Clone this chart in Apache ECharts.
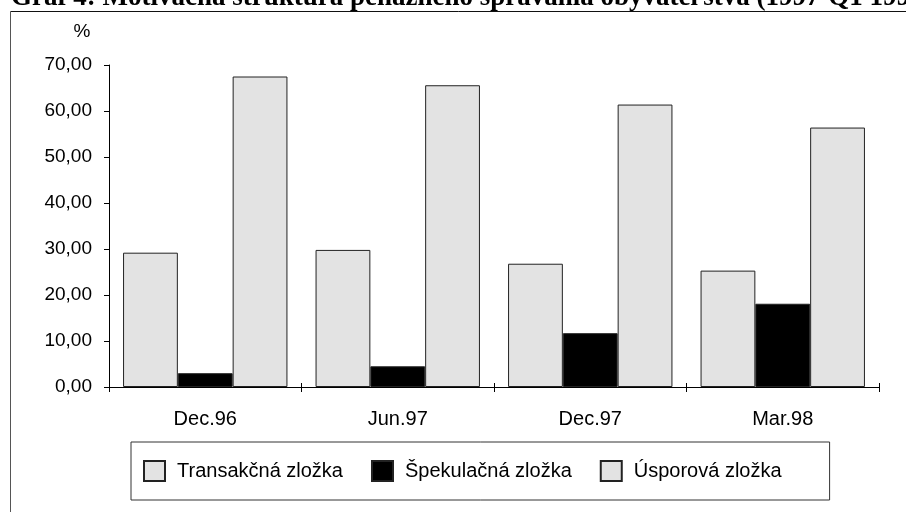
<!DOCTYPE html>
<html>
<head>
<meta charset="utf-8">
<script src="https://cdn.jsdelivr.net/npm/echarts@6/dist/echarts.min.js"></script>
<style>
  html, body { margin: 0; padding: 0; background: #fff; }
  #chart { width: 906px; height: 512px; }
</style>
</head>
<body>
<div id="chart"></div>
<script>
const categories = ['Dec.96', 'Jun.97', 'Dec.97', 'Mar.98']
const seriesNames = ['Transakčná zložka', 'Špekulačná zložka', 'Úsporová zložka']
const transakcna = [29.2, 29.8, 26.8, 25.3]
const spekulacna = [3.0, 4.5, 11.7, 18.1]
const usporova = [67.5, 65.6, 61.4, 56.4]
const yTickLabels = ['0,00', '10,00', '20,00', '30,00', '40,00', '50,00', '60,00', '70,00']

const titleText = 'Graf 4: Motivačná štruktúra peňažného správania obyvateľstva (1997-Q1 1998)'
const font = '"Liberation Sans", Arial, sans-serif'
const barFill = '#e3e3e3'
const barEdge = '#222'

const chart = echarts.init(document.getElementById('chart'), null, { renderer: 'canvas' })

function barSeries(name, data, color) {
  return {
    name: name,
    type: 'bar',
    xAxisIndex: 0,
    data: data,
    barGap: '0%',
    barCategoryGap: '14.6%',
    itemStyle: { color: color, borderColor: barEdge, borderWidth: 1 },
    emphasis: { disabled: true },
    animation: false
  }
}

chart.setOption({
  backgroundColor: '#fff',
  animation: false,
  textStyle: { fontFamily: font, color: '#000' },
  graphic: [
    {
      type: 'text',
      left: 11,
      top: -15,
      silent: true,
      style: {
        text: titleText,
        font: 'bold 27px "Liberation Serif", "Times New Roman", serif',
        fill: '#000'
      }
    },
    {
      type: 'line',
      silent: true,
      shape: { x1: 10.5, y1: 11.5, x2: 906, y2: 11.5 },
      style: { stroke: '#111', lineWidth: 1 }
    },
    {
      type: 'line',
      silent: true,
      shape: { x1: 10.5, y1: 11.5, x2: 10.5, y2: 512 },
      style: { stroke: '#555', lineWidth: 1 }
    },
    {
      type: 'text',
      silent: true,
      x: 82,
      y: 32,
      style: {
        text: '%',
        font: '19px ' + font,
        fill: '#000',
        align: 'center',
        verticalAlign: 'middle'
      }
    }
  ],
  grid: {
    left: 109,
    right: 27,
    top: 65,
    bottom: 125,
    containLabel: false,
    outerBoundsMode: 'none'
  },
  legend: {
    left: 131,
    top: 442,
    orient: 'horizontal',
    padding: [18, 48, 18, 12],
    borderColor: '#333',
    borderWidth: 1,
    itemWidth: 21,
    itemHeight: 20,
    itemGap: 28,
    icon: 'rect',
    selectedMode: false,
    textStyle: { fontSize: 20, color: '#000', fontFamily: font, padding: [0, 0, 0, 7] },
    data: seriesNames
  },
  xAxis: [
    {
      type: 'category',
      data: categories,
      position: 'bottom',
      axisLine: { lineStyle: { color: '#000', width: 1 } },
      axisTick: { show: true, length: 5, lineStyle: { color: '#000' } },
      axisLabel: { fontSize: 20, color: '#000', margin: 22, fontFamily: font },
      splitLine: { show: false }
    },
    {
      type: 'category',
      data: categories,
      position: 'bottom',
      offset: 0,
      axisLine: { show: false },
      axisTick: { show: true, inside: true, length: 4, lineStyle: { color: '#000' } },
      axisLabel: { show: false },
      splitLine: { show: false }
    }
  ],
  yAxis: {
    type: 'value',
    min: 0,
    max: 70,
    interval: 10,
    axisLine: { show: true, lineStyle: { color: '#000', width: 1 } },
    axisTick: { show: true, length: 5, lineStyle: { color: '#000' } },
    axisLabel: {
      fontSize: 19,
      color: '#000',
      margin: 17,
      fontFamily: font,
      formatter: (value, index) => yTickLabels[index]
    },
    splitLine: { show: false }
  },
  series: [
    barSeries(seriesNames[0], transakcna, barFill),
    barSeries(seriesNames[1], spekulacna, '#000'),
    barSeries(seriesNames[2], usporova, barFill)
  ]
})
</script>
</body>
</html>
